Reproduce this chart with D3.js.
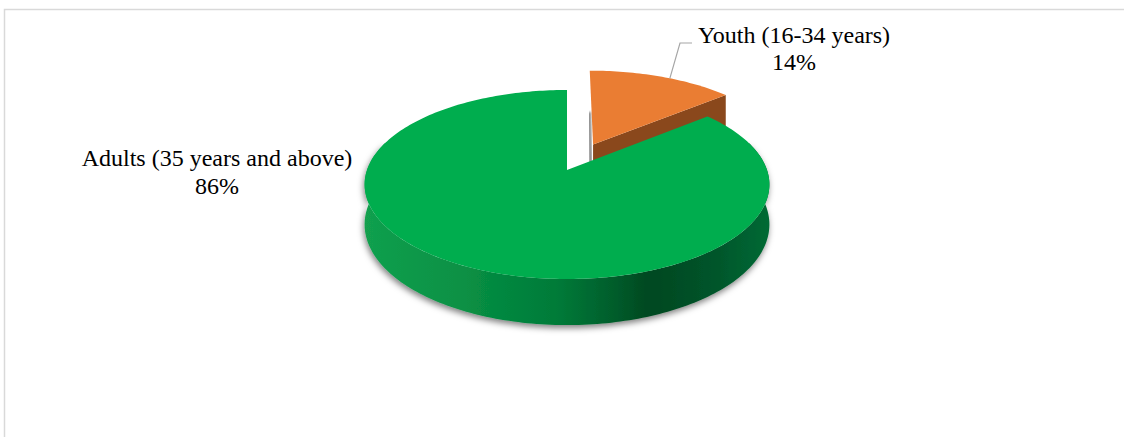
<!DOCTYPE html>
<html lang="en">
<head>
<meta charset="utf-8">
<title>Age groups 3D pie</title>
<script src="https://d3js.org/d3.v7.min.js"></script>
<style>
  body { margin: 0; background: #fff; }
  text { font-family: "Liberation Serif", "Times New Roman", serif; fill: #000; }
</style>
</head>
<body>
<script>
// data
var categories = ['Youth (16-34 years)', 'Adults (35 years and above)'];
var shares = [14, 86];
var topColors = ['#ea7d33', '#00ad4e'];
var explode = [0.32, 0];

var width = 1124, height = 437;

var svg = d3.select('body').append('svg')
    .attr('width', width).attr('height', height);

var defs = svg.append('defs');

// wall gradient for the green slice
var grad = defs.append('linearGradient').attr('id', 'wallGreen')
    .attr('gradientUnits', 'userSpaceOnUse')
    .attr('x1', 364).attr('x2', 770).attr('y1', 0).attr('y2', 0);
[[0, '#12a04e'], [0.25, '#089044'], [0.48, '#007a38'], [0.62, '#005c2b'],
 [0.7, '#004820'], [0.85, '#00532a'], [1, '#006a34']].forEach(function (s) {
    grad.append('stop').attr('offset', s[0]).attr('stop-color', s[1]);
});

var shadow = defs.append('filter').attr('id', 'drop')
    .attr('x', '-10%').attr('y', '-10%').attr('width', '120%').attr('height', '130%');
shadow.append('feDropShadow').attr('dx', -1).attr('dy', 3)
    .attr('stdDeviation', 3).attr('flood-color', '#000').attr('flood-opacity', 0.5);

var blur = defs.append('filter').attr('id', 'blur');
blur.append('feGaussianBlur').attr('stdDeviation', 1);

// frame
svg.append('path').attr('d', 'M4.5,437 V9.5 H1124')
    .attr('fill', 'none').attr('stroke', '#d9d9d9').attr('stroke-width', 1.5);

// 3D projection of the disc
var cx = 567, cy = 170, R = 200, Ry = 92.3, depth = 39, dist = 6.52;
function proj(u, v, h) {
    var s = dist / (dist - v);
    return [cx + R * u * s, cy + (Ry * v + h) * s];
}
// point on the slice at angle a (clockwise from top), radius r, height h
function pt(i, a, r, h) {
    var m = (arcs[i].startAngle + arcs[i].endAngle) / 2;
    var ou = explode[i] * Math.sin(m), ov = -explode[i] * Math.cos(m);
    return proj(ou + r * Math.sin(a), ov - r * Math.cos(a), h);
}
function arcPts(i, a0, a1, h) {
    var n = Math.max(2, Math.ceil(Math.abs(a1 - a0) / 0.02));
    return d3.range(n + 1).map(function (k) { return pt(i, a0 + (a1 - a0) * k / n, 1, h); });
}

var pie = d3.pie().sort(null).value(function (d) { return d; });
var arcs = pie(shares);
var line = d3.line();

function drawSlice(i) {
    var a = arcs[i], g = svg.append('g');
    // shadow strip on the cut near 12 o'clock
    var cut = i === 0 ? a.startAngle : a.endAngle;
    var off = i === 0 ? -2 : 2;
    var s0 = pt(i, cut, 0.5, depth * 0.2), s1 = pt(i, cut, 0, depth);
    g.append('path').attr('d', line([[s0[0] + off, s0[1]], [s1[0] + off, s1[1]]]))
        .attr('stroke', '#7f7f7f').attr('stroke-width', 3).attr('filter', 'url(#blur)');

    // outer wall (front part only)
    var w0 = Math.max(a.startAngle, Math.PI * 0.4), w1 = Math.min(a.endAngle, Math.PI * 1.6);
    if (w1 > w0) {
        var wall = arcPts(i, w0, w1, 0).concat(arcPts(i, w1, w0, depth));
        g.append('path').attr('d', line(wall) + 'Z')
            .attr('fill', 'url(#wallGreen)').attr('filter', 'url(#drop)');
    }
    // radial side face at end angle (visible for the small slice)
    if (i === 0) {
        var e = a.endAngle;
        var face = [pt(i, e, 0, 0), pt(i, e, 1, 0), pt(i, e, 1, depth), pt(i, e, 0, depth)];
        g.append('path').attr('d', line(face) + 'Z').attr('fill', '#8a481c');
    }
    // top face
    var top = [pt(i, 0, 0, 0)].concat(arcPts(i, a.startAngle, a.endAngle, 0));
    g.append('path').attr('d', line(top) + 'Z').attr('fill', topColors[i]);
}
drawSlice(0);
drawSlice(1);

// labels
var fs = 24;
var m0 = (arcs[0].startAngle + arcs[0].endAngle) / 2;
var p0 = pt(0, m0 + 0.05, 1, 0);
svg.append('path').attr('d', line([p0, [680, 43], [692, 43]]))
    .attr('fill', 'none').attr('stroke', '#a6a6a6').attr('stroke-width', 1.2);

var lab0 = svg.append('text').attr('text-anchor', 'middle').style('font-size', fs + 'px');
lab0.append('tspan').attr('x', 794).attr('y', 43).text(categories[0]);
lab0.append('tspan').attr('x', 794).attr('y', 70).text(shares[0] + '%');

var lab1 = svg.append('text').attr('text-anchor', 'middle').style('font-size', fs + 'px');
lab1.append('tspan').attr('x', 217).attr('y', 166).text(categories[1]);
lab1.append('tspan').attr('x', 217).attr('y', 194).text(shares[1] + '%');
</script>
</body>
</html>
